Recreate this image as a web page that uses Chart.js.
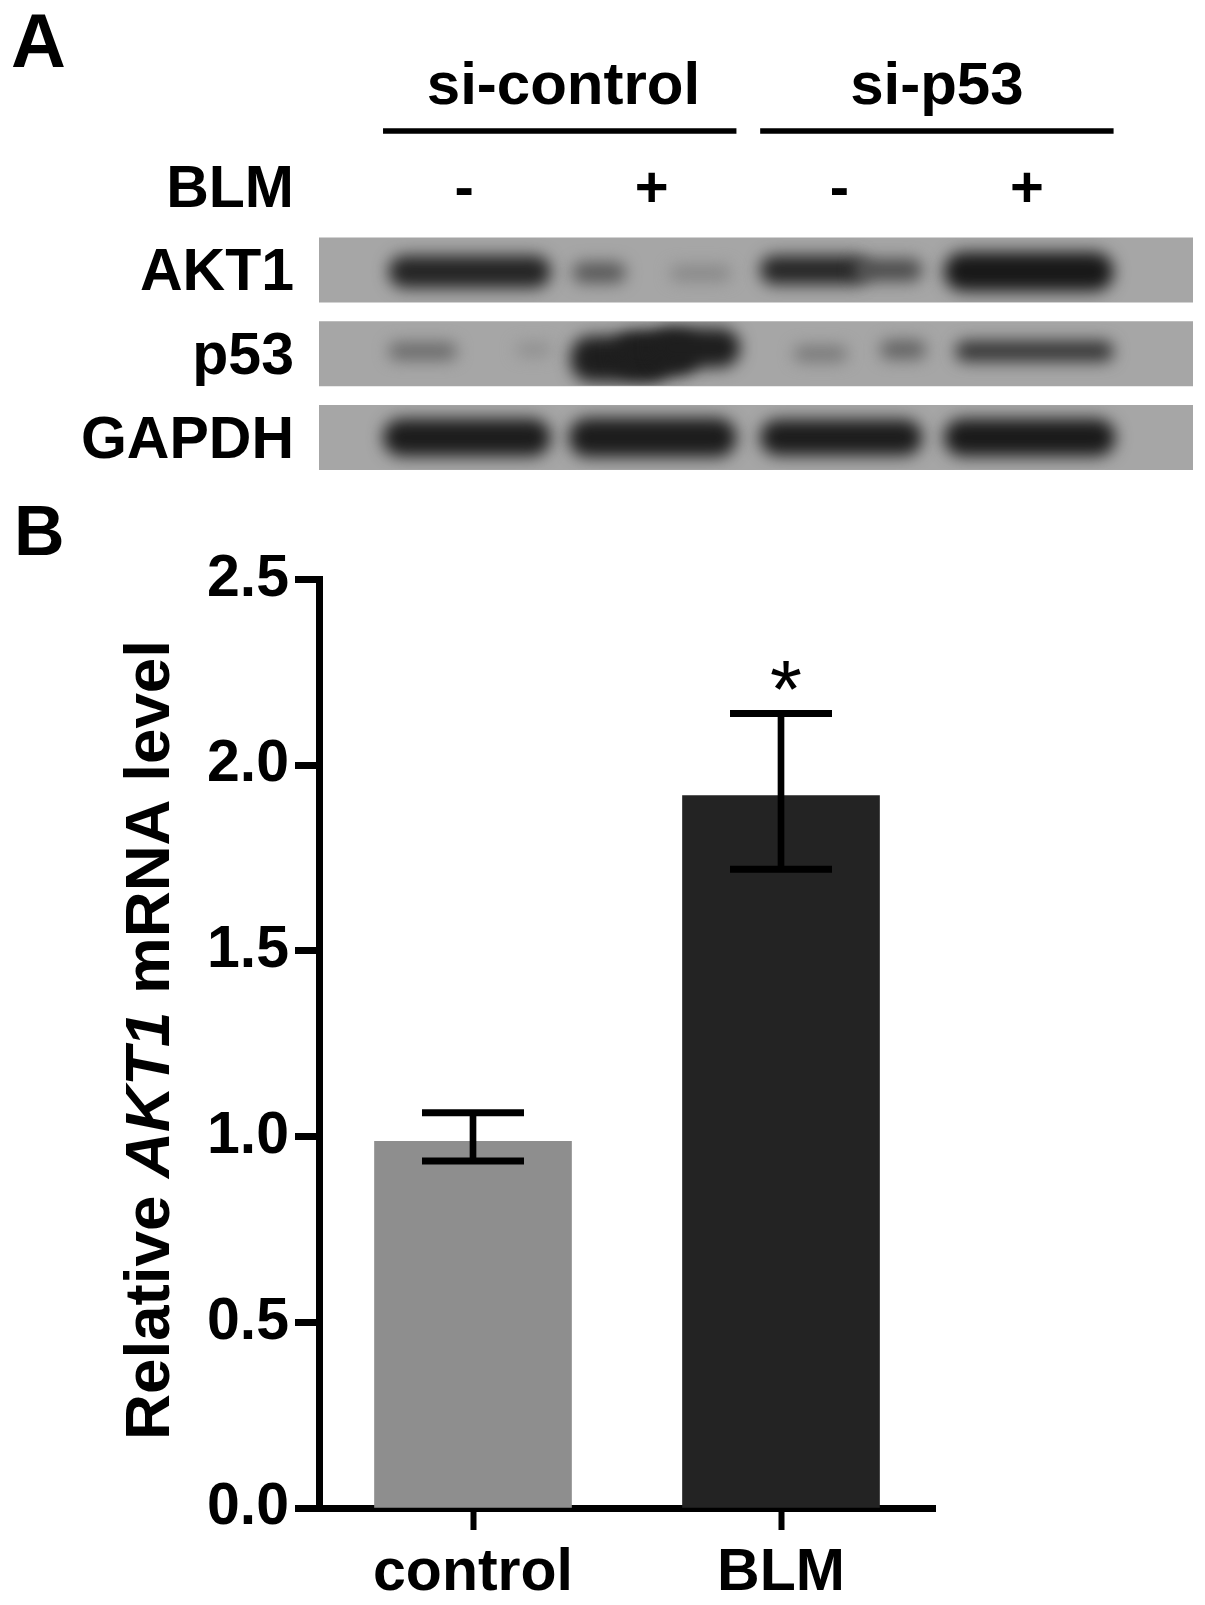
<!DOCTYPE html>
<html>

<head>
  <title>AKT1 blot and mRNA level</title>
  <script src="https://cdn.jsdelivr.net/npm/chart.js"></script>
  <style>
    html, body { margin: 0; padding: 0; background: #fff; }
    canvas { position: absolute; left: 0; }
    #blot { top: 0; }
    #mrna { top: 480px; }
  </style>
</head>

<body>
  <canvas id="blot" width="1205" height="480"></canvas>
  <canvas id="mrna" width="1205" height="1125"></canvas>

  <script>
    // panel A: x is the lane number, y is the row (0 = BLM, 1..3 = blots)
    const rowLabels = ['BLM', 'AKT1', 'p53', 'GAPDH'];
    const laneMarks = ['-', '+', '-', '+'];
    const groupNames = ['si-control', 'si-p53'];
    const groupCenter = [1.53, 3.52];
    const groupFrom = [0.57, 2.58];
    const groupTo = [2.45, 4.46];

    // one entry per band on the film
    const bandRow = [1, 1, 1, 1, 1, 1, 2, 2, 2, 2, 2, 2, 2, 2, 3, 3, 3, 3];
    const bandOffset = [0.02, 0.03, 0.04, 0.0, 0.0, 0.02, -0.03, -0.05, 0.06, 0.0, -0.07, 0.0, -0.05, -0.03, 0.0, 0.0, 0.0, 0.0];
    const bandFrom = [0.6, 1.58, 2.1, 2.58, 3.08, 3.56, 0.6, 1.28, 1.57, 1.8, 2.0, 2.76, 3.22, 3.62, 0.57, 1.56, 2.58, 3.56];
    const bandTo = [1.46, 1.86, 2.42, 3.15, 3.44, 4.46, 0.96, 1.46, 2.1, 2.25, 2.47, 3.04, 3.46, 4.46, 1.46, 2.45, 3.44, 4.47];
    const bandHeight = [0.38, 0.24, 0.18, 0.34, 0.26, 0.46, 0.2, 0.14, 0.54, 0.5, 0.46, 0.18, 0.22, 0.24, 0.44, 0.46, 0.42, 0.44];
    const bandGrey = [36, 88, 135, 38, 75, 24, 105, 140, 30, 30, 30, 118, 98, 52, 28, 28, 28, 26];

    // panel B
    const categories = ['control', 'BLM'];
    const mrnaLevel = [0.987, 1.918];
    const errLow = [0.934, 1.72];
    const errHigh = [1.064, 2.139];
    const barColors = ['#8e8e8e', '#232323'];
    const yTicks = [0, 0.5, 1, 1.5, 2, 2.5];
    const significance = [null, '*'];

    const FONT = '"Liberation Sans", Arial, sans-serif';
    const ROW_PX = 83.75;

    function bandDatasets() {
      const sets = [];
      for (let i = 0; i < bandRow.length; i++) {
        const g = bandGrey[i];
        sets.push({
          data: [{ x: [bandFrom[i], bandTo[i]], y: bandRow[i] + bandOffset[i] }],
          backgroundColor: `rgb(${g},${g},${g})`,
          barThickness: bandHeight[i] * ROW_PX,
          borderRadius: 20,
          borderSkipped: false,
          grouped: false,
          order: 10 - i / 100,
          blurRow: bandRow[i]
        });
      }
      return sets;
    }

    // soft film look for the bands, kept inside their strip
    const bandBlur = {
      id: 'bandBlur',
      beforeDatasetDraw(chart, args) {
        const row = chart.data.datasets[args.index].blurRow;
        if (row === undefined) return;
        const ctx = chart.ctx;
        const y = chart.scales.y.getPixelForValue(row);
        ctx.save();
        ctx.beginPath();
        ctx.rect(chart.chartArea.left, y - 32, chart.chartArea.width, 64);
        ctx.clip();
        ctx.filter = 'blur(8px)';
      },
      afterDatasetDraw(chart, args) {
        if (chart.data.datasets[args.index].blurRow !== undefined) chart.ctx.restore();
      }
    };

    const blotText = {
      id: 'blotText',
      afterDraw(chart) {
        const ctx = chart.ctx;
        const x = chart.scales.x;
        const y = chart.scales.y;
        ctx.save();
        ctx.fillStyle = '#000';
        ctx.textAlign = 'center';
        ctx.textBaseline = 'middle';
        ctx.font = `bold 58px ${FONT}`;
        laneMarks.forEach((m, i) => ctx.fillText(m, x.getPixelForValue(i + 1), y.getPixelForValue(0.06)));
        ctx.font = `bold 60px ${FONT}`;
        groupNames.forEach((name, i) => {
          ctx.fillText(name, x.getPixelForValue(groupCenter[i]), y.getPixelForValue(-1.18));
        });
        ctx.textAlign = 'left';
        ctx.textBaseline = 'alphabetic';
        ctx.font = `bold 76px ${FONT}`;
        ctx.fillText('A', 11, 67);
        ctx.restore();
      }
    };

    new Chart(document.getElementById('blot'), {
      type: 'bar',
      data: {
        datasets: [
          ...bandDatasets(),
          {
            // grey film strips
            data: [1, 2, 3].map(r => ({ x: [0.227, 4.885], y: r })),
            backgroundColor: '#a6a6a6',
            barThickness: 64.5,
            grouped: false,
            order: 20
          },
          {
            // lines under si-control / si-p53
            data: groupFrom.map((f, i) => ({ x: [f, groupTo[i]], y: -0.66 })),
            backgroundColor: '#000',
            barThickness: 5,
            grouped: false,
            order: 1
          }
        ]
      },
      options: {
        indexAxis: 'y',
        responsive: false,
        animation: false,
        layout: { autoPadding: false, padding: { top: 0, right: 12, bottom: 10, left: 0 } },
        plugins: { legend: { display: false }, tooltip: { enabled: false } },
        scales: {
          x: { type: 'linear', display: false, min: 0.227, max: 4.885 },
          y: {
            type: 'linear',
            reverse: true,
            offset: false,
            min: -2.224,
            max: 3.388,
            afterFit: s => { s.width = 319; s.paddingTop = 0; s.paddingBottom = 0; },
            // labels sit a touch below the row centre
            afterBuildTicks: s => { s.ticks = rowLabels.map((_, i) => ({ value: i + 0.05 })); },
            grid: { display: false },
            border: { display: false },
            ticks: {
              padding: 17,
              color: '#000',
              font: { family: FONT, size: 59, weight: 'bold' },
              callback: v => rowLabels[Math.round(v)]
            }
          }
        }
      },
      plugins: [bandBlur, blotText]
    });

    const mrnaText = {
      id: 'mrnaText',
      afterDraw(chart) {
        const ctx = chart.ctx;
        const x = chart.scales.x;
        const y = chart.scales.y;
        ctx.save();
        ctx.fillStyle = '#000';

        ctx.textBaseline = 'alphabetic';
        ctx.textAlign = 'left';
        ctx.font = `bold 70px ${FONT}`;
        ctx.fillText('B', 14, 75);

        // y title has an italic gene name in the middle
        const parts = [['Relative ', 'bold'], ['AKT1', 'italic bold'], [' mRNA level', 'bold']];
        let total = 0;
        parts.forEach(p => {
          ctx.font = `${p[1]} 63.7px ${FONT}`;
          total += ctx.measureText(p[0]).width;
        });
        ctx.save();
        ctx.translate(169, 560);
        ctx.rotate(-Math.PI / 2);
        let pos = -total / 2;
        parts.forEach(p => {
          ctx.font = `${p[1]} 63.7px ${FONT}`;
          ctx.fillText(p[0], pos, 0);
          pos += ctx.measureText(p[0]).width;
        });
        ctx.restore();

        ctx.textAlign = 'center';
        ctx.font = `normal 82px ${FONT}`;
        significance.forEach((s, i) => {
          if (s) ctx.fillText(s, x.getPixelForValue(i) + 5, y.getPixelForValue(errHigh[i] + 0.02) + 11);
        });
        ctx.restore();
      }
    };

    new Chart(document.getElementById('mrna'), {
      data: {
        labels: categories,
        datasets: [
          {
            type: 'bar',
            data: mrnaLevel,
            backgroundColor: barColors,
            barThickness: 197,
            grouped: false,
            order: 3
          },
          {
            // error bar stems
            type: 'bar',
            data: errLow.map((low, i) => [low, errHigh[i]]),
            backgroundColor: '#000',
            barThickness: 6,
            grouped: false,
            order: 2
          },
          {
            type: 'line',
            data: errHigh,
            showLine: false,
            pointStyle: 'line',
            pointRadius: 51,
            pointBorderWidth: 7,
            pointBorderColor: '#000',
            order: 1
          },
          {
            type: 'line',
            data: errLow,
            showLine: false,
            pointStyle: 'line',
            pointRadius: 51,
            pointBorderWidth: 7,
            pointBorderColor: '#000',
            order: 1
          }
        ]
      },
      options: {
        responsive: false,
        animation: false,
        layout: { padding: { top: 99.5, right: 270, bottom: 0, left: 0 } },
        plugins: { legend: { display: false }, tooltip: { enabled: false } },
        scales: {
          x: {
            type: 'category',
            afterFit: s => { s.height = 97; },
            grid: { drawOnChartArea: false, offset: false, tickLength: 22, tickWidth: 6, tickColor: '#000' },
            border: { display: true, width: 7, color: '#000' },
            ticks: {
              padding: 8,
              color: '#000',
              maxRotation: 0,
              font: { family: FONT, size: 59, weight: 'bold' }
            }
          },
          y: {
            type: 'linear',
            min: 0,
            max: 2.5,
            afterFit: s => { s.width = 319; },
            afterBuildTicks: s => { s.ticks = yTicks.map(v => ({ value: v })); },
            grid: { drawOnChartArea: false, tickLength: 24, tickWidth: 7, tickColor: '#000' },
            border: { display: true, width: 7, color: '#000' },
            ticks: {
              padding: 6,
              color: '#000',
              font: { family: FONT, size: 59, weight: 'bold' },
              callback: v => v.toFixed(1)
            }
          }
        }
      },
      plugins: [mrnaText]
    });
  </script>
</body>

</html>
